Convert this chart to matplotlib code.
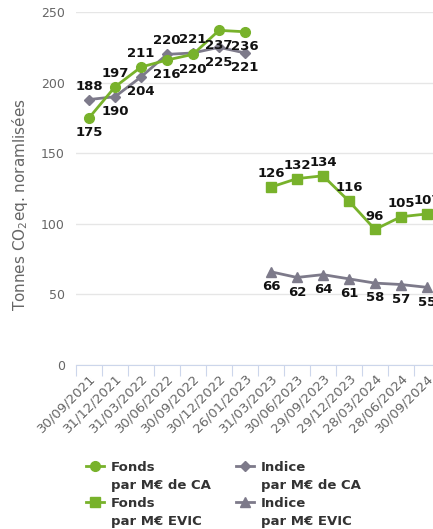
import numpy as np
import matplotlib.pyplot as plt
from matplotlib.lines import Line2D

dates = ['30/09/2021', '31/12/2021', '31/03/2022', '30/06/2022', '30/09/2022',
         '30/12/2022', '26/01/2023', '31/03/2023', '30/06/2023', '29/09/2023',
         '29/12/2023', '28/03/2024', '28/06/2024', '30/09/2024']

fonds_ca = [175, 197, 211, 216, 220, 237, 236]
indice_ca = [188, 190, 204, 220, 221, 225, 221]
fonds_evic = [126, 132, 134, 116, 96, 105, 107]
indice_evic = [66, 62, 64, 61, 58, 57, 55]

# label placement (above / below the point)
fonds_ca_pos = ['b', 'a', 'a', 'b', 'b', 'b', 'b']
indice_ca_pos = ['a', 'b', 'b', 'a', 'a', 'b', 'b']

green = '#78b22b'
grey = '#7d7a8a'

fig = plt.figure(figsize=(4.33, 5.29), dpi=100)
ax = fig.add_axes([76 / 433, 1 - 365 / 529, 364 / 433, 353 / 529])

x_ca = np.arange(len(fonds_ca))
x_evic = np.arange(len(fonds_ca), len(dates))

l1, = ax.plot(x_ca, fonds_ca, '-o', c=green, lw=2, ms=7, zorder=4)
l2, = ax.plot(x_ca, indice_ca, '-D', c=grey, lw=2, ms=5.5, zorder=3)
l3, = ax.plot(x_evic, fonds_evic, '-s', c=green, lw=2, ms=7.5, zorder=4)
l4, = ax.plot(x_evic, indice_evic, '-^', c=grey, lw=2, ms=7, zorder=3)

lab = dict(fontsize=9.5, fontweight='bold', color='#111111', ha='center',
           clip_on=False, zorder=6)


def put_labels(xs, ys, pos):
    for xi, yi, p in zip(xs, ys, pos):
        if p == 'a':
            ax.annotate(str(yi), (xi, yi), xytext=(0, 5), textcoords='offset points',
                        va='bottom', **lab)
        else:
            ax.annotate(str(yi), (xi, yi), xytext=(0, -6), textcoords='offset points',
                        va='top', **lab)


put_labels(x_ca, fonds_ca, fonds_ca_pos)
put_labels(x_ca, indice_ca, indice_ca_pos)
put_labels(x_evic, fonds_evic, ['a'] * 7)
put_labels(x_evic, indice_evic, ['b'] * 7)

ax.set_xlim(-0.5, len(dates) - 0.5)
ax.set_ylim(0, 250)
ax.set_yticks([0, 50, 100, 150, 200, 250])
ax.grid(axis='y', color='#e6e6e6', lw=1)
ax.set_axisbelow(True)
for s in ['top', 'right', 'left']:
    ax.spines[s].set_visible(False)
ax.spines['bottom'].set_color('#ccd6eb')
ax.tick_params(axis='y', length=0, labelsize=9, labelcolor='#666666', pad=8)

ax.set_xticks(np.arange(len(dates)) - 0.5, minor=False)
ax.set_xticklabels([])
ax.tick_params(axis='x', which='major', length=8, color='#ccd6eb')
ax.set_xticks(np.arange(len(dates)), minor=True)
ax.set_xticklabels(dates, minor=True, rotation=45, ha='right', rotation_mode='anchor',
                   fontsize=9.5, color='#666666')
ax.tick_params(axis='x', which='minor', length=0, pad=5)

ax.set_ylabel(r'Tonnes CO$_2$eq. noramlisées', fontsize=11, color='#666666')
ax.yaxis.set_label_coords(-0.125, 0.453)

blank = Line2D([], [], alpha=0)
leg = fig.legend([l1, blank, l3, blank, l2, blank, l4, blank],
                 ['Fonds', 'par M€ de CA', 'Fonds', 'par M€ EVIC',
                  'Indice', 'par M€ de CA', 'Indice', 'par M€ EVIC'],
                 ncol=2, loc='upper left', bbox_to_anchor=(86 / 433, 1 - 461 / 529),
                 frameon=False, prop={'weight': 'bold', 'size': 9.5},
                 labelcolor='#333333', handlelength=1.4, columnspacing=1.9,
                 labelspacing=0.38, handletextpad=0.5, borderpad=0, borderaxespad=0)

fig.savefig('out.png', dpi=100)
